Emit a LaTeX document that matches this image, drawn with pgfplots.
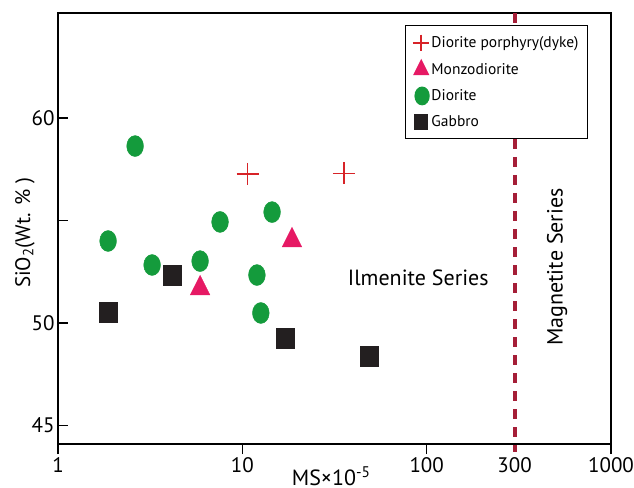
\documentclass[border=0pt]{standalone}
\usepackage{fontspec}
\setmainfont{PT Sans}
\usepackage{pgfplots}
\pgfplotsset{compat=1.18}
\definecolor{dgreen}{RGB}{20,155,60}
\definecolor{mpink}{RGB}{230,25,100}
\definecolor{cred}{RGB}{215,35,40}
\definecolor{dred}{RGB}{165,30,55}
\definecolor{sqblack}{RGB}{35,31,32}
\begin{document}
\begin{tikzpicture}
\begin{axis}[
  name=ax, scale only axis, width=553pt, height=431pt,
  xmode=log, xmin=1, xmax=1000, ymin=44.1, ymax=65.12,
  clip=false,
  /pgf/number format/assume math mode=true,
  xtick={1,10,100,1000}, xticklabels={1,10,100,1000},
  extra x ticks={300}, extra x tick labels={300},
  extra x tick style={tick style={draw=none}},
  xminorticks=false, yminorticks=false,
  ytick={45,50,55,60}, yticklabels={45,50,,60},
  xtick pos=bottom, ytick pos=left,
  xtick align=outside, ytick align=inside,
  major tick length=10pt,
  tick style={line width=1.2pt, black},
  axis line style={line width=1.2pt, black},
  tick label style={font=\fontsize{21}{25}\selectfont},
  xlabel={MS×10\textsuperscript{-5}},
  xlabel style={font=\fontsize{22}{26}\selectfont, at={(axis description cs:0.494,-0.096)}, anchor=base},
  ylabel={SiO\textsubscript{2}(Wt. \% )},
  ylabel style={font=\fontsize{21}{25}\selectfont, at={(axis description cs:-0.0597,0.49)}, anchor=center},
  legend style={at={(1,1)}, anchor=north east, xshift=-23pt, yshift=-12.5pt,
    draw=black, line width=1pt, fill=white,
    font=\fontsize{15.5}{18}\selectfont, row sep=9pt, inner xsep=7pt, inner ysep=8.5pt,
    cells={anchor=west}},
  legend cell align=left,
]
\addplot[only marks, mark=+, mark size=11pt, cred, line width=1.5pt,
  legend image post style={scale=0.75}]
  coordinates {(10.7,57.27)(35.6,57.3)};
\addlegendentry{Diorite porphyry(dyke)}
\addplot[only marks, mark=triangle*, mark size=13pt, mpink,
  mark options={fill=mpink, draw=mpink, xscale=0.87},
  legend image post style={scale=0.75}]
  coordinates {(5.9,51.69)(18.6,54.03)};
\addlegendentry{Monzodiorite}
\addplot[only marks, mark=*, mark size=10.5pt, dgreen,
  mark options={fill=dgreen, draw=dgreen, xscale=0.8},
  legend image post style={scale=0.85}]
  coordinates {(2.62,58.63)(1.87,54.0)(3.24,52.83)(5.9,53.02)(7.57,54.93)(14.5,55.41)(12.0,52.34)(12.6,50.49)};
\addlegendentry{Diorite}
\addplot[only marks, mark=square*, mark size=9pt, sqblack,
  mark options={fill=sqblack, draw=sqblack, yscale=1.1},
  legend image post style={scale=0.75}]
  coordinates {(1.87,50.54)(4.15,52.34)(17.06,49.27)(48.7,48.39)};
\addlegendentry{Gabbro}
\addplot[dred, line width=4pt, dash pattern=on 10pt off 8pt, forget plot]
  coordinates {(300,65.12)(300,43.7)};
\node[font=\fontsize{22}{26}\selectfont] at (axis cs:90,52.2) {Ilmenite Series};
\node[font=\fontsize{22}{26}\selectfont, rotate=90] at (axis cs:510,52.73) {Magnetite Series};
\end{axis}
\pgfresetboundingbox
\path[use as bounding box] ([xshift=-58pt,yshift=-43pt]ax.south west) rectangle ([xshift=23pt,yshift=13pt]ax.north east);
\end{tikzpicture}
\end{document}
